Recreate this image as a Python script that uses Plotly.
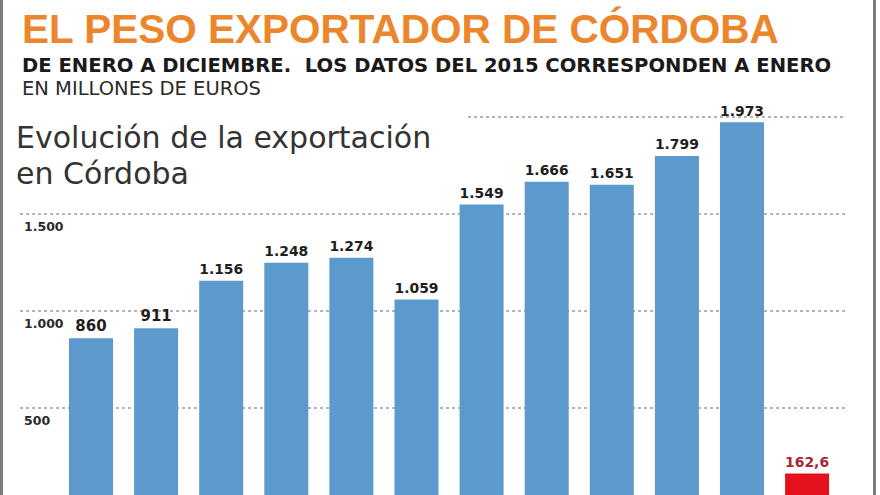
import plotly.graph_objects as go

# ---- data ----
years = ["2004", "2005", "2006", "2007", "2008", "2009", "2010", "2011", "2012", "2013", "2014"]
exports = [860, 911, 1156, 1248, 1274, 1059, 1549, 1666, 1651, 1799, 1973]
jan_label = ["2015"]
jan_value = [162.6]
grid_values = [500, 1000, 1500, 2000]
tick_values = [500, 1000, 1500]
tick_labels = ["500", "1.000", "1.500"]

W, H = 880, 495
BLUE = "#5C99CC"
RED = "#E3121C"

fig = go.Figure()
fig.add_trace(go.Bar(
    x=years, y=exports, marker=dict(color=BLUE, line=dict(width=0)),
    texttemplate="%{y:,.0f}", textposition="outside", cliponaxis=False,
    outsidetextfont=dict(family="DejaVu Sans", size=15, color="#1e1e1e", weight="bold"),
    hoverinfo="x+y", showlegend=False,
))
fig.add_trace(go.Bar(
    x=jan_label, y=jan_value, marker=dict(color=RED, line=dict(width=0)),
    texttemplate="%{y:.1f}", textposition="outside", cliponaxis=False,
    outsidetextfont=dict(family="DejaVu Sans", size=18, color="#A8283A", weight="bold"),
    hoverinfo="x+y", showlegend=False,
))

shapes = []
grid_start = {500: 20, 1000: 20, 1500: 20, 2000: 468}
for v in grid_values:
    shapes.append(dict(type="line", xref="paper", yref="y",
                       x0=grid_start[v] / W, x1=845 / W, y0=v, y1=v,
                       line=dict(color="#9c9c9c", width=1.5, dash="dot"), layer="below"))
# side frame lines
for xp in (1.5, 874.5):
    shapes.append(dict(type="line", xref="paper", yref="paper",
                       x0=xp / W, x1=xp / W, y0=0, y1=1,
                       line=dict(color="#7d7d7d", width=3)))

annotations = []
for v, t in zip(tick_values, tick_labels):
    annotations.append(dict(x=22 / W, xref="paper", y=v, yref="y", yshift=-13,
                            text=t, showarrow=False, xanchor="left", yanchor="middle",
                            font=dict(family="DejaVu Sans", size=12.5, color="#2a2a2a", weight="bold")))


def top_text(text, px, py, size, color, family, weight="normal"):
    return dict(x=px / W, y=1 - py / H, xref="paper", yref="paper", text=text,
                showarrow=False, xanchor="left", yanchor="middle",
                font=dict(family=family, size=size, color=color, weight=weight))


annotations += [
    top_text("EL PESO EXPORTADOR DE CÓRDOBA", 20, 29, 40.5, "#EC862C", "Liberation Sans", "bold"),
    top_text("DE ENERO A DICIEMBRE.  LOS DATOS DEL 2015 CORRESPONDEN A ENERO", 20, 66, 19.6,
             "#1a1a1a", "DejaVu Sans", "bold"),
    top_text("EN MILLONES DE EUROS", 20, 88, 19.5, "#2a2a2a", "DejaVu Sans"),
    top_text("Evolución de la exportación", 14, 137, 30, "#333333", "DejaVu Sans"),
    top_text("en Córdoba", 14, 173, 30, "#333333", "DejaVu Sans"),
]

fig.update_layout(
    width=W, height=H, autosize=False,
    margin=dict(l=0, r=0, t=0, b=0),
    paper_bgcolor="white", plot_bgcolor="white",
    separators=",.",
    barmode="overlay", bargap=0.324,
    xaxis=dict(type="category", range=[-1.398, 12.12], visible=False,
               categoryorder="array", categoryarray=years + jan_label),
    yaxis=dict(range=[51.5, 2603], visible=False),
    shapes=shapes, annotations=annotations,
)

fig.write_html("out.html", config={"displayModeBar": False},
               post_script="document.body.style.margin='0px';")
